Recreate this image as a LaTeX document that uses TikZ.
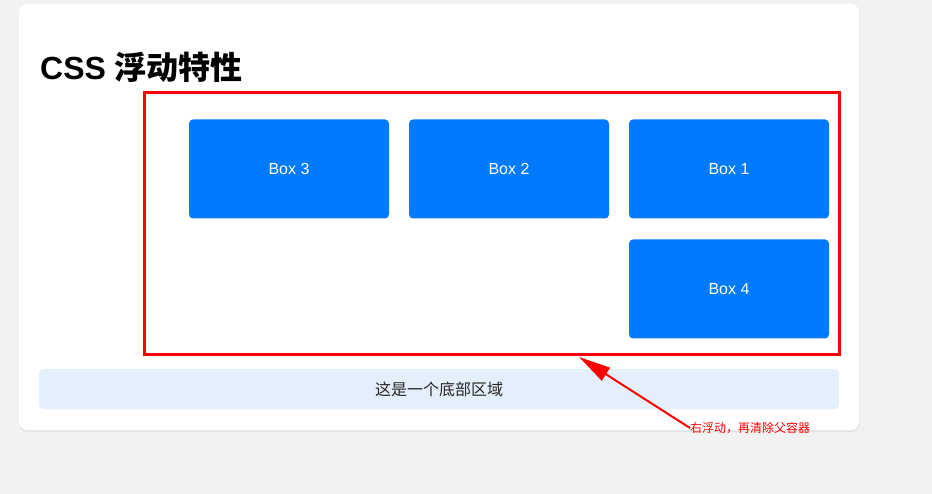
\documentclass[tikz,border=0pt]{standalone}
\usepackage{fontspec}
\setmainfont{Liberation Sans}
\newfontfamily\cjk{Noto Sans CJK SC}
\usetikzlibrary{arrows.meta}
\definecolor{boxblue}{HTML}{007BFF}
\definecolor{footblue}{HTML}{E3F0FB}
\definecolor{pagegray}{HTML}{F2F2F2}
\tikzstyle{floatbox} = [fill=boxblue,rounded corners=4pt,minimum width=200pt,minimum height=99pt,text=white,font=\fontsize{16}{19}\selectfont,inner sep=0pt]
\tikzstyle{arrow} = [red,line width=2pt,-{Triangle[length=32pt,width=15pt]}]

\begin{document}
\begin{tikzpicture}[x=1pt,y=-1pt]
        % page and card
        \fill[pagegray] (0,0) rectangle (932,494);
        \useasboundingbox (0,0) rectangle (932,494);
        \fill[black!10,rounded corners=8pt] (19,6) rectangle (860,432);
        \fill[white,rounded corners=8pt] (19,4) rectangle (859,430);
        \node[anchor=base west,inner sep=0pt,font=\fontsize{32}{38}\selectfont\bfseries] (title) at (40,80) {CSS {\cjk 浮动特性}};
        % parent container
        \node[draw=red,line width=3pt,minimum width=695pt,minimum height=262pt,inner sep=0pt] (container) at (492,223.5) {};
        \node[floatbox] (box3) at (289,169) {Box 3};
        \node[floatbox] (box2) at (509,169) {Box 2};
        \node[floatbox] (box1) at (729,169) {Box 1};
        \node[floatbox] (box4) at (729,289) {Box 4};
        \node[fill=footblue,rounded corners=4pt,minimum width=800pt,minimum height=40pt,inner sep=0pt,font=\cjk\fontsize{16}{19}\selectfont,text=black!85] (footer) at (439,389) {这是一个底部区域};
        % note
        \node[anchor=west,inner sep=0pt,text=red,font=\cjk\fontsize{12}{14}\selectfont] (note) at (690,428) {右浮动，再清除父容器};
        \coordinate (tip) at (579,357);
        \draw[arrow] (note.west) -- (tip);
\end{tikzpicture}
\end{document}
